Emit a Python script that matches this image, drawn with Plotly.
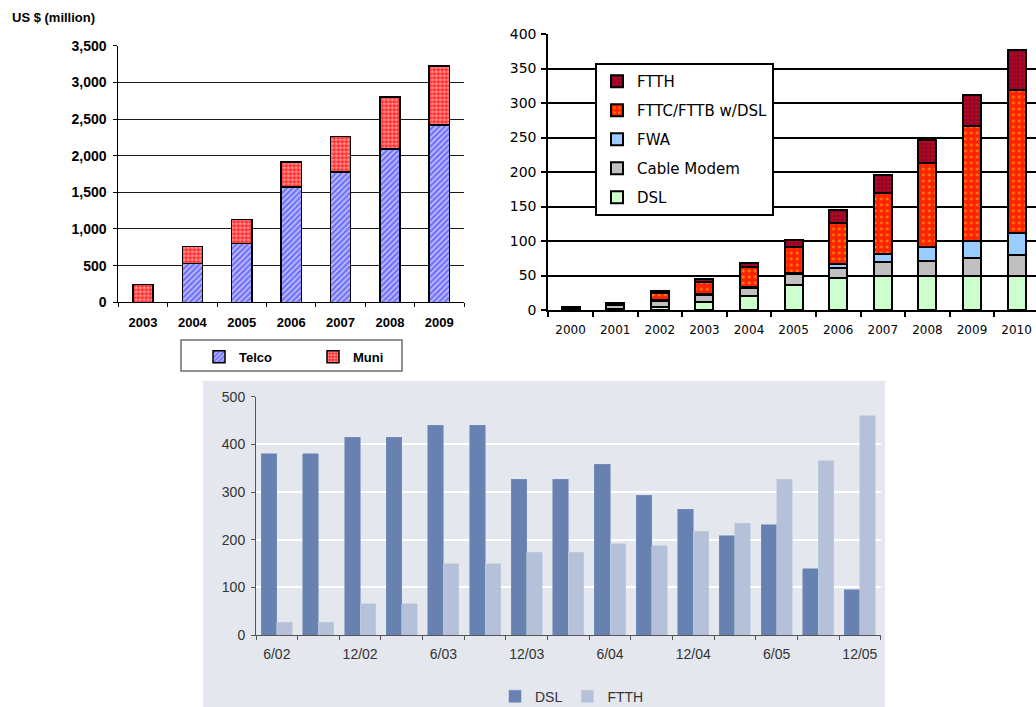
import plotly.graph_objects as go

# ---- Capital spending, Telco vs Muni (US $ million) ----
spend_years = ["2003", "2004", "2005", "2006", "2007", "2008", "2009"]
telco_spend = [0, 530, 800, 1575, 1775, 2090, 2420]
muni_spend = [240, 230, 330, 340, 485, 710, 800]
spend_ticks = [0, 500, 1000, 1500, 2000, 2500, 3000, 3500]

# ---- Broadband lines by access technology ----
bb_years = ["2000", "2001", "2002", "2003", "2004", "2005",
            "2006", "2007", "2008", "2009", "2010"]
bb_dsl = [1, 2, 4, 12, 21, 36, 47, 50, 50, 50, 50]
bb_cable = [2, 5, 9, 10, 11, 16, 14, 19, 21, 26, 30]
bb_fwa = [0, 0, 1, 1, 2, 1, 6, 12, 20, 24, 31]
bb_fttc = [1, 2, 11, 17, 29, 39, 59, 88, 122, 166, 208]
bb_ftth = [1, 1, 3, 5, 5, 10, 19, 27, 34, 46, 58]
bb_ticks = [0, 50, 100, 150, 200, 250, 300, 350, 400]

# ---- Quarterly DSL vs FTTH ----
quarters = ["6/02", "9/02", "12/02", "3/03", "6/03", "9/03", "12/03", "3/04",
            "6/04", "9/04", "12/04", "3/05", "6/05", "9/05", "12/05"]
quarter_labels = ["6/02", "", "12/02", "", "6/03", "", "12/03", "",
                  "6/04", "", "12/04", "", "6/05", "", "12/05"]
q_dsl = [380, 380, 415, 415, 440, 440, 327, 327, 358, 293, 264, 208, 231, 139, 95]
q_ftth = [27, 27, 66, 66, 149, 149, 174, 174, 191, 187, 218, 235, 327, 366, 460]
q_ticks = [0, 100, 200, 300, 400, 500]

W, H = 1036, 707


def px_x(p):
    return p / W


def px_y(p):
    return 1 - p / H


ARIAL = "Liberation Sans, Arial, sans-serif"
VERDANA = "DejaVu Sans, Verdana, sans-serif"

fig = go.Figure()

# ---------- left chart: stacked Telco / Muni ----------
fig.add_trace(go.Bar(
    x=spend_years, y=telco_spend, name="Telco", width=0.41,
    xaxis="x", yaxis="y", legend="legend",
    marker=dict(color="#7a7aff", line=dict(color="black", width=1.5),
                pattern=dict(shape="/", fgcolor="#1c1cf8", bgcolor="#c4c4ff",
                             size=4, solidity=0.6)),
))
fig.add_trace(go.Bar(
    x=spend_years, y=muni_spend, name="Muni", width=0.41,
    xaxis="x", yaxis="y", legend="legend4",
    marker=dict(color="#ff2a2a", line=dict(color="black", width=1.5),
                pattern=dict(shape=".", fgcolor="#ffffff", bgcolor="#ff2a2a",
                             size=4, solidity=0.5)),
))

# ---------- right chart: stacked access technologies ----------
bb_series = [
    ("DSL", bb_dsl, 5, dict(color="#ccffcc")),
    ("Cable Modem", bb_cable, 4, dict(color="#c0c0c0")),
    ("FWA", bb_fwa, 3, dict(color="#99ccff")),
    ("FTTC/FTTB w/DSL", bb_fttc, 2,
     dict(color="#ff2200", pattern=dict(shape=".", fgcolor="#ffee00", bgcolor="#ff2200",
                                         size=6, solidity=0.18))),
    ("FTTH", bb_ftth, 1,
     dict(color="#cc0000", pattern=dict(shape=".", fgcolor="#14148c", bgcolor="#d40000",
                                         size=4, solidity=0.55))),
]
for name, vals, rank, mk in bb_series:
    mk = dict(mk)
    mk["line"] = dict(color="black", width=2)
    fig.add_trace(go.Bar(
        x=bb_years, y=vals, name=name, width=0.40,
        xaxis="x2", yaxis="y2", legend="legend2", legendgroup=name,
        legendrank=rank, marker=mk,
    ))

# ---------- bottom chart: DSL vs FTTH side by side ----------
fig.add_trace(go.Bar(
    x=quarters, y=q_dsl, name="DSL", width=0.3725, offset=-0.3725,
    xaxis="x3", yaxis="y3", legend="legend3", legendrank=1,
    marker=dict(color="#6782b1", line=dict(color="#7890bd", width=0.6)),
))
fig.add_trace(go.Bar(
    x=quarters, y=q_ftth, name="FTTH", width=0.3725, offset=0,
    xaxis="x4", yaxis="y3", legend="legend3", legendrank=2,
    marker=dict(color="#b4c1d8", line=dict(color="#c2cde0", width=0.6)),
))

fig.update_layout(
    width=W, height=H, autosize=False,
    margin=dict(l=0, r=0, t=0, b=0, pad=0, autoexpand=False),
    paper_bgcolor="white",
    plot_bgcolor="rgba(0,0,0,0)",
    barmode="stack",
    showlegend=True,
    # left chart axes
    xaxis=dict(
        domain=[px_x(118.3), px_x(464)], anchor="y", type="category",
        range=[-0.5, 6.5], tickson="boundaries", ticks="outside", ticklen=4,
        tickcolor="black", showline=True, linecolor="black", linewidth=1,
        showgrid=False, ticklabelstandoff=8, tickangle=0, automargin=False,
        tickfont=dict(family=ARIAL, size=13, color="black", weight="bold"),
    ),
    yaxis=dict(
        domain=[px_y(302.3), px_y(45.7)], anchor="x", range=[0, 3500],
        tickvals=spend_ticks, tickformat=",", ticks="outside", ticklen=4,
        tickcolor="black", showline=True, linecolor="black", linewidth=1,
        showgrid=True, gridcolor="#1a1a1a", gridwidth=1, zeroline=False,
        ticklabelstandoff=4, automargin=False,
        tickfont=dict(family=ARIAL, size=14, color="black", weight="bold"),
    ),
    # right chart axes
    xaxis2=dict(
        domain=[px_x(548.3), 1.0], anchor="y2", type="category",
        range=[-0.5, -0.5 + (W - 548.3) / 44.6], tickson="boundaries",
        ticks="outside", ticklen=5, tickwidth=2, tickcolor="black",
        showline=True, linecolor="black", linewidth=2, showgrid=False,
        ticklabelstandoff=8, tickangle=0, automargin=False,
        tickfont=dict(family=VERDANA, size=12, color="black"),
    ),
    yaxis2=dict(
        domain=[px_y(310), px_y(34)], anchor="x2", range=[0, 400],
        tickvals=bb_ticks, ticks="outside", ticklen=5, tickwidth=2,
        tickcolor="black", showline=True, linecolor="black", linewidth=2,
        showgrid=True, gridcolor="black", gridwidth=2, zeroline=False,
        ticklabelstandoff=2, automargin=False,
        tickfont=dict(family=VERDANA, size=14, color="black"),
    ),
    # bottom chart axes
    xaxis3=dict(
        domain=[px_x(256), px_x(880.7)], anchor="y3", type="category",
        categoryorder="array", categoryarray=quarters,
        range=[-0.5, 14.5], tickvals=quarters, ticktext=quarter_labels,
        tickson="boundaries", ticks="outside", ticklen=4, tickcolor="#555555",
        showline=True, linecolor="#555555", linewidth=1, showgrid=False,
        ticklabelstandoff=6, tickangle=0, automargin=False,
        tickfont=dict(family=ARIAL, size=14, color="#333333"),
    ),
    xaxis4=dict(
        overlaying="x3", anchor="y3", type="category",
        categoryorder="array", categoryarray=quarters,
        range=[-0.5, 14.5], visible=False, showgrid=False, automargin=False,
    ),
    yaxis3=dict(
        domain=[px_y(635), px_y(396.7)], anchor="x3", range=[0, 500],
        tickvals=q_ticks, ticks="outside", ticklen=4, tickcolor="#555555",
        showline=True, linecolor="#555555", linewidth=1,
        showgrid=True, gridcolor="white", gridwidth=2, zeroline=False,
        ticklabelstandoff=3, automargin=False,
        tickfont=dict(family=ARIAL, size=14, color="#333333"),
    ),
    legend=dict(
        x=px_x(199), y=px_y(356.7), xanchor="left", yanchor="middle",
        bgcolor="rgba(0,0,0,0)", borderwidth=0,
        font=dict(family=ARIAL, size=13, color="black", weight="bold"),
    ),
    legend4=dict(
        x=px_x(313), y=px_y(356.7), xanchor="left", yanchor="middle",
        bgcolor="rgba(0,0,0,0)", borderwidth=0,
        font=dict(family=ARIAL, size=13, color="black", weight="bold"),
    ),
    legend2=dict(
        x=px_x(595), y=px_y(63), xanchor="left", yanchor="top",
        bgcolor="white", bordercolor="black", borderwidth=2,
        traceorder="grouped", tracegroupgap=6.5,
        font=dict(family=VERDANA, size=15, color="black"),
    ),
    legend3=dict(
        orientation="h", x=px_x(572), y=px_y(696.7),
        xanchor="center", yanchor="middle", bgcolor="rgba(0,0,0,0)",
        traceorder="normal",
        font=dict(family=ARIAL, size=14, color="#333333"),
    ),
    shapes=[
        # grey panel behind the quarterly chart
        dict(type="rect", xref="paper", yref="paper",
             x0=px_x(203), x1=px_x(885), y0=0, y1=px_y(380.7),
             fillcolor="#e4e7ee", line=dict(width=0), layer="below"),
        # frame around the Telco / Muni legend
        dict(type="rect", xref="paper", yref="paper",
             x0=px_x(181), x1=px_x(402), y0=px_y(371), y1=px_y(340),
             fillcolor="rgba(0,0,0,0)", line=dict(color="#6e6e6e", width=1.5)),
    ],
    annotations=[
        dict(text="US $ (million)", xref="paper", yref="paper",
             x=px_x(10), y=px_y(17), xanchor="left", yanchor="middle",
             showarrow=False,
             font=dict(family=ARIAL, size=13, color="black", weight="bold")),
    ],
)

fig.write_html("out.html", config={"responsive": False})
